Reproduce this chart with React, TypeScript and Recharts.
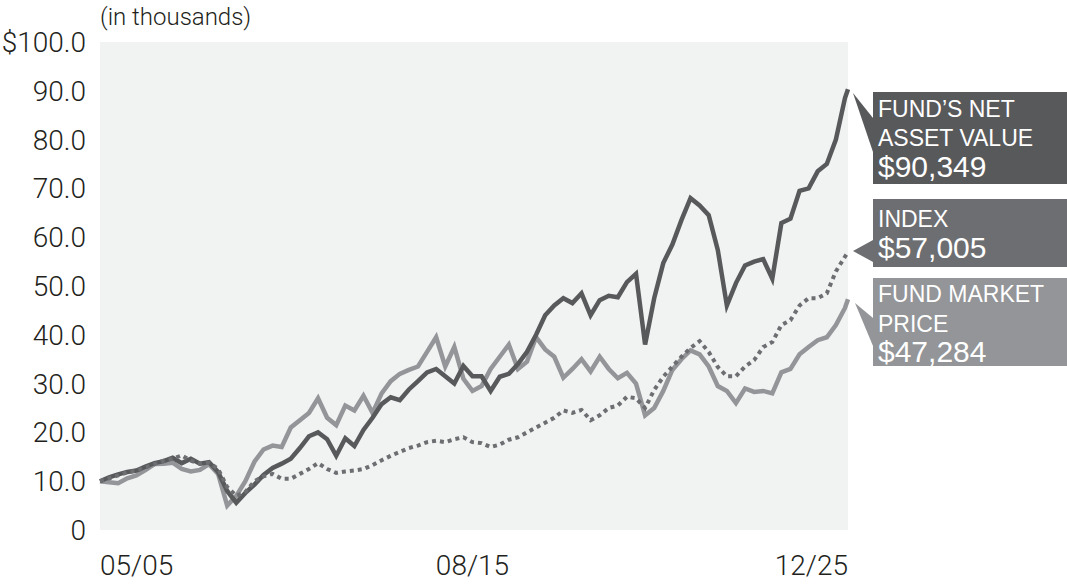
import React from 'react';
import { LineChart, Line, XAxis, YAxis, CartesianGrid } from 'recharts';

// months since 05/2005, roughly quarterly
const months = [
  0, 3, 6, 9, 12, 15, 18, 21, 24, 27, 30, 33, 36, 39, 42, 45, 48, 51, 54, 57,
  60, 63, 66, 69, 72, 75, 78, 81, 84, 87, 90, 93, 96, 99, 102, 105, 108, 111, 114, 117,
  120, 123, 126, 129, 132, 135, 138, 141, 144, 147, 150, 153, 156, 159, 162, 165, 168, 171, 174, 177,
  180, 183, 186, 189, 192, 195, 198, 201, 204, 207, 210, 213, 216, 219, 222, 225, 228, 231, 234, 237,
  240, 243, 246, 247,
];

// values in thousands of dollars
const navValues = [
  10.0, 10.8, 11.4, 11.9, 12.2, 13.0, 13.7, 14.1, 14.8, 13.7, 14.6, 13.6, 13.9, 11.9, 8.0, 5.6, 7.6, 9.3, 11.3, 12.7,
  13.6, 14.6, 16.8, 19.2, 20.0, 18.6, 15.2, 18.8, 17.2, 20.5, 23.0, 25.8, 27.2, 26.6, 28.8, 30.5, 32.3, 33.0, 31.5, 30.0,
  33.6, 31.5, 31.5, 28.5, 31.4, 32.0, 34.0, 36.5, 40.0, 44.0, 46.0, 47.5, 46.5, 48.5, 44.0, 47.1, 48.0, 47.7, 50.8, 52.5,
  38.0, 47.5, 54.7, 58.5, 63.5, 68.0, 66.5, 64.5, 57.4, 46.0, 50.6, 54.2, 55.0, 55.5, 51.5, 62.9, 63.8, 69.5, 70.0, 73.5,
  75.0, 80.0, 88.5, 90.3,
];

const indexValues = [
  10.0, 10.6, 11.2, 11.8, 12.2, 12.8, 13.5, 14.2, 14.6, 15.3, 14.2, 13.6, 13.8, 12.5, 8.8, 7.0, 7.8, 10.0, 11.0, 11.5,
  10.5, 10.5, 11.5, 12.5, 13.7, 12.5, 11.7, 12.0, 12.2, 12.5, 13.3, 14.3, 15.2, 16.0, 16.8, 17.3, 18.0, 18.3, 18.0, 18.6,
  19.0, 18.0, 17.8, 17.0, 17.5, 18.5, 19.0, 20.0, 21.0, 22.0, 23.0, 24.5, 24.0, 24.6, 22.5, 23.5, 25.0, 25.5, 27.3, 27.0,
  25.0, 28.7, 31.4, 33.5, 35.5, 37.3, 38.7, 36.5, 33.4, 31.5, 31.5, 33.5, 34.8, 37.5, 38.5, 42.0, 43.0, 46.0, 47.5, 47.5,
  48.5, 53.0, 56.0, 57.0,
];

const marketValues = [
  10.0, 9.8, 9.6, 10.6, 11.2, 12.3, 13.5, 13.6, 13.8, 12.5, 12.0, 12.3, 13.5, 11.5, 5.0, 7.0, 10.0, 14.0, 16.5, 17.3,
  17.0, 21.0, 22.5, 24.0, 27.0, 23.0, 21.5, 25.5, 24.5, 27.5, 24.0, 28.0, 30.5, 32.0, 32.8, 33.5, 36.5, 39.5, 33.5, 37.5,
  31.0, 28.5, 29.5, 33.0, 35.5, 38.0, 33.0, 34.5, 39.5, 37.0, 35.5, 31.2, 33.0, 35.0, 32.5, 35.5, 33.0, 31.1, 32.2, 30.0,
  23.5, 25.0, 28.5, 32.8, 35.0, 36.8, 36.0, 33.5, 29.5, 28.5, 26.0, 29.0, 28.3, 28.5, 28.0, 32.3, 33.0, 36.0, 37.5, 38.9,
  39.5, 42.0, 45.5, 47.3,
];

const xTickMonths = [0, 123, 247];
const xTickLabels = ['05/05', '08/15', '12/25'];
const yTicks = [0, 10, 20, 30, 40, 50, 60, 70, 80, 90, 100];

const data = months.map((m, i) => ({
  m,
  nav: navValues[i],
  index: indexValues[i],
  market: marketValues[i],
}));

const NAV_COLOR = '#58595b';
const INDEX_COLOR = '#6d6e71';
const MARKET_COLOR = '#939598';
const AXIS_FONT = 'Roboto, "Open Sans", sans-serif';
const BOX_FONT = '"Liberation Sans", Arial, sans-serif';

const fmtY = (v: number) => (v === 0 ? '0' : v === 100 ? '$100.0' : v.toFixed(1));

const XTick = ({ x, y, payload, index }: any) => {
  const anchor = index === 0 ? 'start' : index === xTickMonths.length - 1 ? 'end' : 'middle';
  const label = xTickLabels[xTickMonths.indexOf(payload.value)];
  return (
    <text x={x} y={y + 37} textAnchor={anchor} fontFamily={AXIS_FONT} fontWeight={300} fontSize={28} fill="#231f20">
      {label}
    </text>
  );
};

export default function App() {
  return (
    <div style={{ position: 'absolute', left: 0, top: 0, width: 1067, height: 587, background: '#fff' }}>
      <LineChart
        width={1067}
        height={587}
        data={data}
        margin={{ top: 42, right: 219, bottom: 0, left: 0 }}
      >
        <CartesianGrid fill="#f1f2f2" stroke="none" horizontal={false} vertical={false} />
        <XAxis
          dataKey="m"
          type="number"
          domain={[0, 247]}
          ticks={xTickMonths}
          tick={<XTick />}
          axisLine={false}
          tickLine={false}
          height={57}
          interval={0}
        />
        <YAxis
          domain={[0, 100]}
          ticks={yTicks}
          tickFormatter={fmtY}
          width={100}
          axisLine={false}
          tickLine={false}
          tickSize={0}
          tickMargin={14}
          interval={0}
          tick={{ fontFamily: AXIS_FONT, fontSize: 28, fontWeight: 300, fill: '#231f20' }}
        />
        <Line
          dataKey="market"
          stroke={MARKET_COLOR}
          strokeWidth={4.5}
          dot={false}
          type="linear"
          isAnimationActive={false}
        />
        <Line
          dataKey="nav"
          stroke={NAV_COLOR}
          strokeWidth={4.5}
          dot={false}
          type="linear"
          isAnimationActive={false}
        />
        <Line
          dataKey="index"
          stroke={INDEX_COLOR}
          strokeWidth={4}
          strokeDasharray="4 4"
          dot={false}
          type="linear"
          isAnimationActive={false}
        />
      </LineChart>
      <svg
        width={1067}
        height={587}
        style={{ position: 'absolute', left: 0, top: 0, pointerEvents: 'none' }}
      >
        <text x={100} y={25} fontFamily={AXIS_FONT} fontWeight={300} fontSize={24} fill="#231f20">
          (in thousands)
        </text>

        {/* NAV callout */}
        <polygon points="853,93 873,118 873,152" fill={NAV_COLOR} />
        <rect x={873} y={92} width={194} height={92} fill={NAV_COLOR} />
        <text fontFamily={BOX_FONT} fill="#fff">
          <tspan x={878} y={117} fontSize={23}>FUND’S NET</tspan>
          <tspan x={878} y={146} fontSize={23}>ASSET VALUE</tspan>
          <tspan x={878} y={177} fontSize={30}>$90,349</tspan>
        </text>

        {/* Index callout */}
        <polygon points="853,251 873,240 873,262" fill={INDEX_COLOR} />
        <rect x={873} y={199} width={194} height={68} fill={INDEX_COLOR} />
        <text fontFamily={BOX_FONT} fill="#fff">
          <tspan x={878} y={227} fontSize={23}>INDEX</tspan>
          <tspan x={878} y={258} fontSize={30}>$57,005</tspan>
        </text>

        {/* Market price callout */}
        <polygon points="855,303 873,318 873,346" fill={MARKET_COLOR} />
        <rect x={873} y={278} width={194} height={88} fill={MARKET_COLOR} />
        <text fontFamily={BOX_FONT} fill="#fff">
          <tspan x={878} y={302} fontSize={23}>FUND MARKET</tspan>
          <tspan x={878} y={332} fontSize={23}>PRICE</tspan>
          <tspan x={878} y={362} fontSize={30}>$47,284</tspan>
        </text>
      </svg>
    </div>
  );
}
